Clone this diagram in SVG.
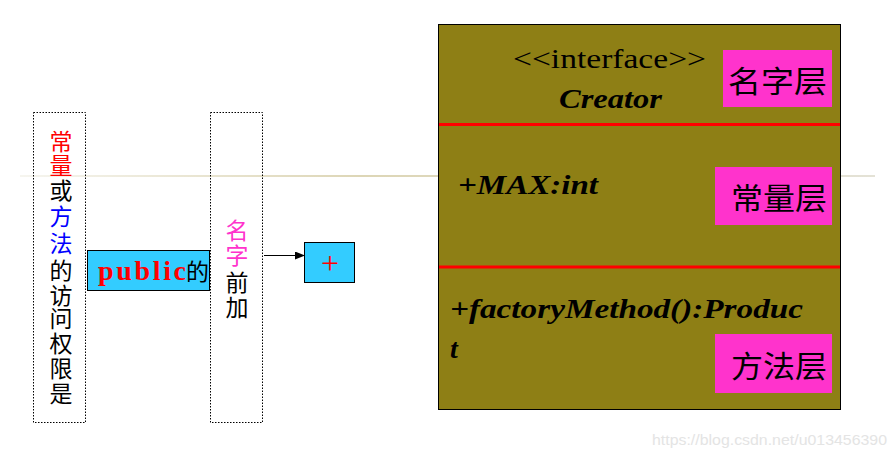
<svg xmlns="http://www.w3.org/2000/svg" width="895" height="456" viewBox="0 0 895 456">
<defs>
<linearGradient id="rule" x1="0" x2="1" y1="0" y2="0">
<stop offset="0" stop-color="#f6f5ef"/>
<stop offset="0.4" stop-color="#ddd6b6"/>
<stop offset="1" stop-color="#e4e2d6"/>
</linearGradient>
<marker id="arr" markerWidth="10" markerHeight="8" refX="9" refY="4" orient="auto" markerUnits="userSpaceOnUse">
<path d="M0,0 L10,4 L0,8 Z" fill="#000"/>
</marker>
</defs>
<style>
.dot{fill:none;stroke:#000;stroke-width:1;stroke-dasharray:1.5,1.5}
.cjk{font-family:"Liberation Serif","Noto Sans CJK SC",serif}
.ser{font-family:"Liberation Serif","Noto Sans CJK SC",serif}
.bi{font-size:28px;font-weight:bold;font-style:italic;fill:#000}
.tag{fill:#ff33cc}
.sep{stroke:#ff0000;stroke-width:3}
</style>
<rect x="20" y="175" width="855" height="2" fill="url(#rule)"/>
<g id="left-box">
<rect class="dot" x="33.5" y="112.5" width="52" height="310"/>
<g class="cjk" font-size="23" text-anchor="middle">
<text x="61" y="150" fill="#ff0000">常</text>
<text x="61" y="174" fill="#ff0000">量</text>
<text x="61" y="199" fill="#000">或</text>
<text x="61" y="225" fill="#0000ff">方</text>
<text x="61" y="252" fill="#0000ff">法</text>
<text x="61" y="279" fill="#000">的</text>
<text x="61" y="304" fill="#000">访</text>
<text x="61" y="327" fill="#000">问</text>
<text x="61" y="352" fill="#000">权</text>
<text x="61" y="377" fill="#000">限</text>
<text x="61" y="402" fill="#000">是</text>
</g>
</g>
<g id="public-box">
<rect x="87.5" y="250.5" width="122" height="40" fill="#33ccff" stroke="#000" stroke-width="1"/>
<text class="ser" x="98" y="280" font-size="28" font-weight="bold" fill="#ff0000" textLength="88" lengthAdjust="spacing">public</text>
<text class="cjk" x="186" y="280" font-size="23" fill="#000">的</text>
</g>
<g id="middle-box">
<rect class="dot" x="210.5" y="112.5" width="52" height="310"/>
<g class="cjk" font-size="23" text-anchor="middle">
<text x="237" y="239" fill="#ff33cc">名</text>
<text x="237" y="264" fill="#ff33cc">字</text>
<text x="237" y="291" fill="#000">前</text>
<text x="237" y="316" fill="#000">加</text>
</g>
</g>
<g id="plus-box">
<rect x="304.5" y="242.5" width="50" height="40" fill="#33ccff" stroke="#000" stroke-width="1"/>
<text class="ser" x="330" y="274" font-size="32" fill="#ff0000" text-anchor="middle">+</text>
</g>
<g id="connectors">
<line x1="264" y1="255.5" x2="304" y2="255.5" stroke="#000" stroke-width="1" marker-end="url(#arr)"/>
</g>
<g id="creator-class">
<rect x="438.5" y="24.5" width="402" height="385" fill="#8e7f15" stroke="#000" stroke-width="1"/>
<line class="sep" x1="439" y1="124.5" x2="840" y2="124.5"/>
<line class="sep" x1="439" y1="267" x2="840" y2="267"/>
<text class="ser" x="513" y="68" font-size="27" fill="#000" textLength="193" lengthAdjust="spacingAndGlyphs">&lt;&lt;interface&gt;&gt;</text>
<text class="ser bi" x="559" y="108" textLength="103" lengthAdjust="spacingAndGlyphs">Creator</text>
<text class="ser bi" x="458" y="194" textLength="140" lengthAdjust="spacingAndGlyphs">+MAX:int</text>
<text class="ser bi" x="450" y="318" textLength="353" lengthAdjust="spacingAndGlyphs">+factoryMethod():Produc</text>
<text class="ser bi" x="450" y="358">t</text>
</g>
<g id="name-layer">
<rect class="tag" x="723" y="50" width="109" height="57"/>
<text class="cjk" x="728" y="92" font-size="30" fill="#000" textLength="99" lengthAdjust="spacingAndGlyphs">名字层</text>
</g>
<g id="const-layer">
<rect class="tag" x="715" y="167" width="117" height="58"/>
<text class="cjk" x="731" y="209" font-size="30" fill="#000" textLength="96" lengthAdjust="spacingAndGlyphs">常量层</text>
</g>
<g id="method-layer">
<rect class="tag" x="715" y="334" width="117" height="59"/>
<text class="cjk" x="731" y="377" font-size="30" fill="#000" textLength="96" lengthAdjust="spacingAndGlyphs">方法层</text>
</g>
<text x="652" y="445" font-family="Liberation Sans, sans-serif" font-size="14.5" fill="#e4e4e4" textLength="235" lengthAdjust="spacingAndGlyphs">https://blog.csdn.net/u013456390</text>
</svg>
